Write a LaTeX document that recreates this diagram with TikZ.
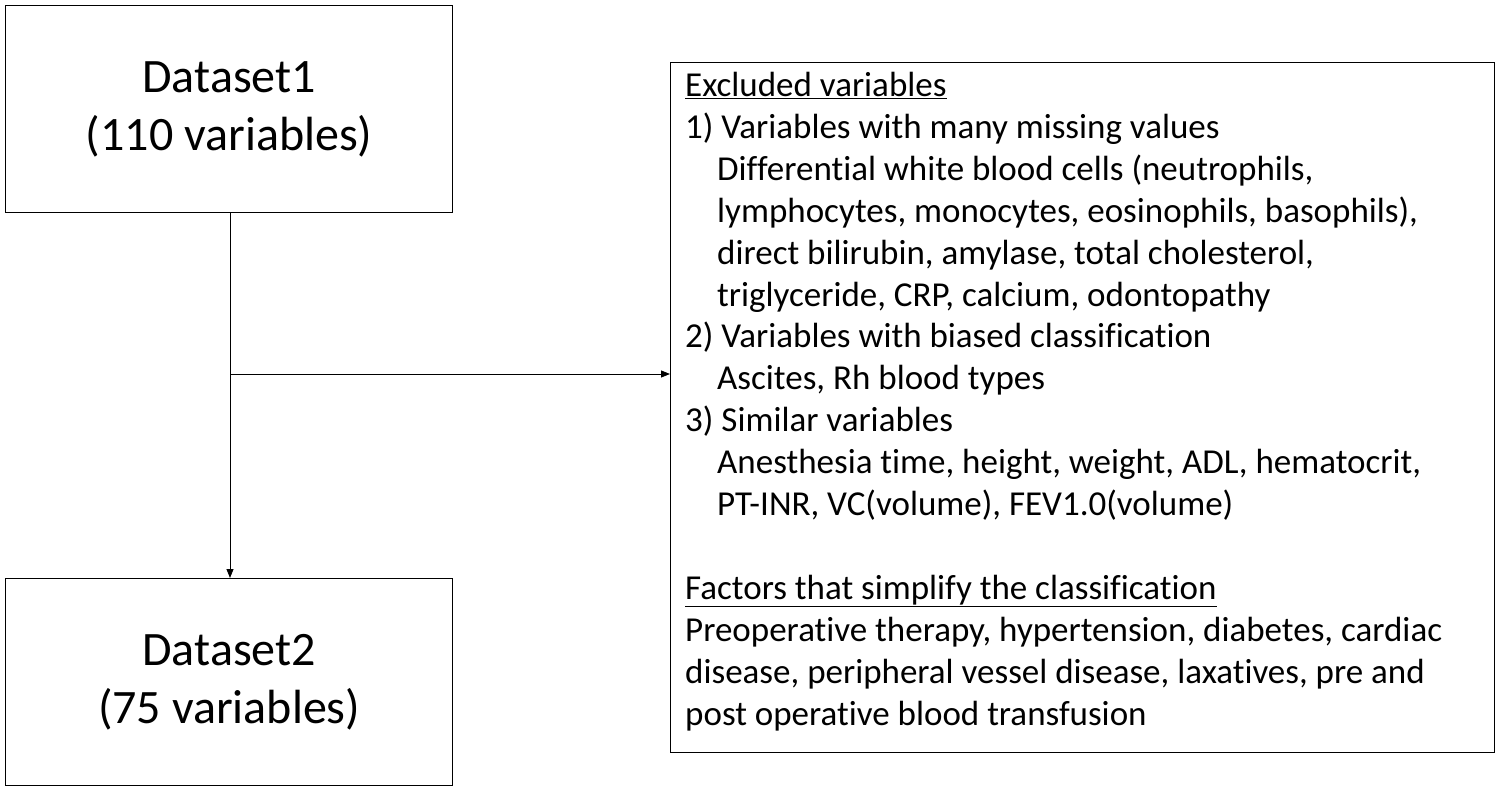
\documentclass[tikz,border=0pt]{standalone}
\usepackage{fontspec}
\setmainfont[Ligatures={NoCommon}]{Carlito}
\usetikzlibrary{arrows.meta}
\begin{document}
\begin{tikzpicture}[x=1pt,y=-1pt,
  box/.style={draw,line width=1.3pt},
  conn/.style={line width=0.9pt,-{Triangle[length=9pt,width=7pt]}}]
\useasboundingbox (0,0) rectangle (1499,791);
\node[box,minimum width=447pt,minimum height=207pt,anchor=north west,align=center,font=\fontsize{48}{58}\selectfont] (d1) at (5,5) {Dataset1\\(110 variables)};
\node[box,minimum width=447pt,minimum height=207pt,anchor=north west,align=center,font=\fontsize{48}{58}\selectfont] (d2) at (5,578) {Dataset2\\(75 variables)};
\node[box,minimum width=824pt,minimum height=690pt,anchor=north west] (ex) at (670,62) {};
\node[anchor=north west,align=left,inner sep=0pt,font=\fontsize{35}{41.9}\selectfont] (txt) at (685,72) {%
\underline{Excluded variables}\\
1) Variables with many missing values\\
\hspace*{32pt}Differential white blood cells (neutrophils,\\
\hspace*{32pt}lymphocytes, monocytes, eosinophils, basophils),\\
\hspace*{32pt}direct bilirubin, amylase, total cholesterol,\\
\hspace*{32pt}triglyceride, CRP, calcium, odontopathy\\
2) Variables with biased classification\\
\hspace*{32pt}Ascites, Rh blood types\\
3) Similar variables\\
\hspace*{32pt}Anesthesia time, height, weight, ADL, hematocrit,\\
\hspace*{32pt}PT-INR, VC(volume), FEV1.0(volume)\\
\mbox{}\\
\underline{Factors that simplify the classification}\\
Preoperative therapy, hypertension, diabetes, cardiac\\
disease, peripheral vessel disease, laxatives, pre and\\
post operative blood transfusion};
\coordinate (j) at (230,374);
\draw[conn] (d1.south -| j) -- (d2.north -| j);
\draw[conn] (j) -- (ex.west |- j);
\end{tikzpicture}
\end{document}
